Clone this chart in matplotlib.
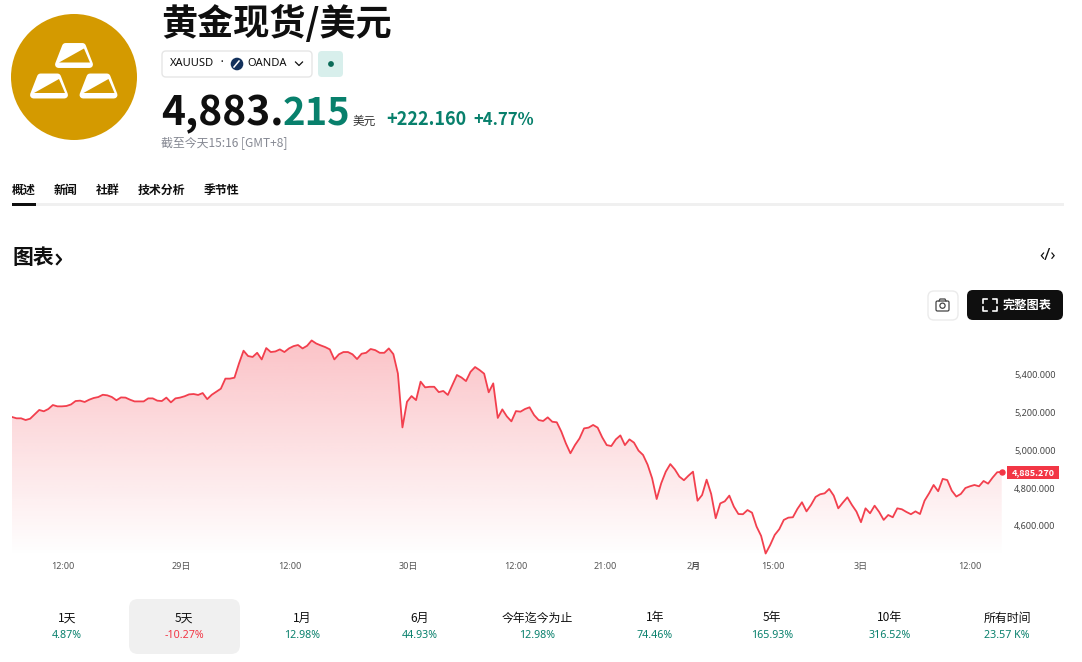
import numpy as np
import matplotlib
matplotlib.use("Agg")
import matplotlib.pyplot as plt
from matplotlib.patches import Circle, FancyBboxPatch, Polygon, Rectangle

plt.rcParams['font.family'] = ['Noto Sans', 'Noto Sans CJK SC']

# --- data (30 min bars) ---
prices = [
    5174, 5167, 5167, 5158, 5165, 5188, 5211, 5204, 5216, 5237, 5230, 5230, 5232, 5240, 5258, 5260,
    5253, 5265, 5274, 5279, 5291, 5288, 5279, 5262, 5277, 5276, 5265, 5256, 5256, 5256, 5272, 5272,
    5260, 5258, 5276, 5251, 5272, 5276, 5283, 5293, 5295, 5290, 5300, 5268, 5291, 5307, 5323, 5376,
    5376, 5381, 5456, 5523, 5495, 5490, 5512, 5477, 5537, 5516, 5519, 5530, 5516, 5535, 5547, 5553,
    5535, 5549, 5577, 5561, 5551, 5542, 5530, 5477, 5504, 5516, 5516, 5504, 5479, 5507, 5512, 5532,
    5526, 5512, 5512, 5535, 5505, 5403, 5119, 5254, 5284, 5263, 5360, 5330, 5333, 5333, 5305, 5311,
    5290, 5342, 5395, 5382, 5363, 5412, 5437, 5421, 5402, 5304, 5351, 5169, 5214, 5177, 5151, 5205,
    5202, 5216, 5225, 5184, 5158, 5153, 5172, 5149, 5146, 5097, 5035, 4983, 5026, 5061, 5114, 5118,
    5132, 5118, 5067, 5026, 5021, 5056, 5077, 5026, 5056, 5039, 4997, 4974, 4923, 4851, 4742, 4825,
    4886, 4926, 4898, 4860, 4841, 4865, 4886, 4733, 4763, 4844, 4769, 4641, 4719, 4730, 4760, 4702,
    4663, 4662, 4684, 4670, 4597, 4548, 4455, 4500, 4553, 4583, 4632, 4644, 4646, 4690, 4725, 4677,
    4711, 4753, 4767, 4772, 4795, 4760, 4693, 4723, 4751, 4711, 4676, 4620, 4693, 4667, 4707, 4674,
    4632, 4658, 4646, 4693, 4688, 4674, 4662, 4677, 4663, 4733, 4772, 4816, 4783, 4848, 4842, 4786,
    4755, 4769, 4800, 4809, 4816, 4809, 4837, 4823, 4855, 4883, 4885,
]
time_ticks = [11.2, 37.2, 61.2, 87.2, 111, 130.6, 150.2, 167.6, 187, 211]
time_labels = ['12:00', '29日', '12:00', '30日', '12:00', '21:00', '2月', '15:00', '3日', '12:00']
price_ticks = [4600, 4800, 5000, 5200, 5400]
last_price = 4885.27

periods = ['1天', '5天', '1月', '6月', '今年迄今为止', '1年', '5年', '10年', '所有时间']
changes = ['4.87%', '-10.27%', '12.98%', '44.93%', '12.98%', '74.46%', '165.93%', '316.52%', '23.57 K%']

tabs = ['概述', '新闻', '社群', '技术分析', '季节性']
tab_x = [12, 54, 96, 138, 204]

W, H = 1082, 662
RED = '#f23645'
GREEN = '#08806c'
INK = '#0f0f0f'
GOLD = '#d49a00'
CJK = ['Noto Sans CJK SC', 'Noto Sans']

fig = plt.figure(figsize=(W / 100, H / 100), dpi=100)

# page layer, in pixels
page = fig.add_axes([0, 0, 1, 1])
page.set_xlim(0, W)
page.set_ylim(H, 0)
page.axis('off')


def rbox(x0, y0, x1, y1, r, **kw):
    page.add_patch(FancyBboxPatch((x0 + r, y0 + r), x1 - x0 - 2 * r, y1 - y0 - 2 * r,
                                  boxstyle=f'round,pad={r},rounding_size={r}', **kw))


def gold_bar(cx, cy):
    # white rounded block with a gold wedge cut into its lower right
    body = [(cx - 8.5, cy - 9), (cx + 8.5, cy - 9), (cx + 15.5, cy + 9), (cx - 15.5, cy + 9)]
    page.add_patch(Polygon(body, closed=True, fc='white', ec='white', lw=5, joinstyle='round'))
    wedge = [(cx - 15, cy + 7), (cx + 10, cy - 7), (cx + 16, cy + 7)]
    page.add_patch(Polygon(wedge, closed=True, fc=GOLD, ec='none'))


# logo
page.add_patch(Circle((74, 77), 63, fc=GOLD, ec='none'))
gold_bar(74, 55.5)
gold_bar(49, 86)
gold_bar(98.5, 86)

# header
page.text(161, 24, '黄金现货/美元', fontsize=26, fontweight='bold', color=INK,
          family=CJK, va='center')
rbox(162, 51, 312, 77, 4, fc='white', ec='#e6e6e6', lw=1)
page.text(170, 64, 'XAUUSD', fontsize=8, color=INK, va='center')
page.text(222, 63, '•', fontsize=5, color=INK, va='center', ha='center')
page.add_patch(Circle((237, 64), 6.3, fc='#13315c', ec='none'))
page.plot([234, 239], [67, 61], color='white', lw=1.1)
page.text(247, 64, 'OANDA', fontsize=8, color=INK, va='center')
page.plot([295.5, 299, 302.5], [62, 65.5, 62], color=INK, lw=0.9)
rbox(318, 51, 343, 77, 4, fc='#d8efec', ec='none')
page.add_patch(Circle((331, 64), 2.9, fc='#0b6b58', ec='none'))

page.text(161, 125, '4,883.', fontsize=29.3, fontweight='bold', color=INK, va='baseline', family=CJK)
page.text(283, 125, '215', fontsize=27.5, fontweight='bold', color=GREEN, va='baseline', family=CJK)
page.text(353, 121, '美元', fontsize=8.4, color='#333333', va='center', family=CJK)
page.text(386, 125, '+222.160', fontsize=13, fontweight='bold', color=GREEN, va='baseline', family=CJK)
page.text(473, 125, '+4.77%', fontsize=12, fontweight='bold', color=GREEN, va='baseline', family=CJK)
page.text(161, 143, '截至今天15:16 [GMT+8]', fontsize=8.6, color='#868993', va='center', family=CJK)

# tabs
for x, label in zip(tab_x, tabs):
    page.text(x, 190.5, label, fontsize=8.6, fontweight='bold', color=INK, va='center', family=CJK)
page.add_patch(Rectangle((12, 203), 1052, 3, fc='#f0f0f0', ec='none'))
page.add_patch(Rectangle((12, 203), 24, 3, fc=INK, ec='none'))

# section title and buttons
page.text(12, 257, '图表', fontsize=15, fontweight='bold', color=INK, va='center', family=CJK)
page.plot([57, 61, 57], [255, 259.5, 264], color=INK, lw=1.6)
page.text(1048, 256, '‹/›', fontsize=12, color=INK, va='center', ha='center')
rbox(928, 291, 958, 320, 6, fc='white', ec='#ebebeb', lw=1)
rbox(936, 301, 949, 311, 1.5, fc='white', ec='#444444', lw=0.9)
page.plot([939, 940, 945, 946], [301, 299, 299, 301], color='#444444', lw=0.9)
page.add_patch(Circle((942.5, 305.7), 2.6, fc='white', ec='#444444', lw=0.9))
rbox(967, 290, 1063, 320, 6, fc=INK, ec='none')
for sx, sy in [(983, 299), (997, 299), (983, 311), (997, 311)]:
    dx = 4 if sx == 983 else -4
    dy = 4 if sy == 299 else -4
    page.plot([sx + dx, sx, sx], [sy, sy, sy + dy], color='white', lw=1.2)
page.text(1003, 305, '完整图表', fontsize=8.8, fontweight='bold', color='white', va='center', family=CJK)

# chart
ax = fig.add_axes([12 / W, (H - 556) / H, (1059 - 12) / W, (556 - 330) / H])
ax.patch.set_alpha(0)
bars = np.arange(len(prices))
for s in ax.spines.values():
    s.set_visible(False)

# fill fades from the top of the line down to nothing
grad = np.zeros((256, 2, 4))
grad[..., :3] = matplotlib.colors.to_rgb(RED)
grad[..., 3] = np.linspace(0.30, 0.0, 256)[:, None]
im = ax.imshow(grad, extent=[0, bars[-1], 4442, max(prices)], origin='upper', aspect='auto', zorder=1)
ax.set_xlim(0, (1059 - 12) / 4.54)
ax.set_ylim(4442, 5632)
verts = [(0, 4442)] + list(zip(bars, prices)) + [(bars[-1], 4442)]
clip = Polygon(verts, closed=True, transform=ax.transData, fc='none', ec='none')
ax.add_patch(clip)
im.set_clip_path(clip)

ax.plot(bars, prices, color=RED, lw=1.3, zorder=3, solid_joinstyle='round', alpha=0.95)
ax.plot(bars[-1], prices[-1], 'o', color=RED, ms=3.6, zorder=4)

ax.set_xticks(time_ticks)
ax.set_xticklabels(time_labels, fontsize=6.5, color='#555555')
ax.tick_params(axis='x', length=0, pad=4)
ax.yaxis.tick_right()
ax.set_yticks(price_ticks)
ax.set_yticklabels([f'{p:,.3f}' for p in price_ticks], fontsize=6.5, color='#444444')
ax.tick_params(axis='y', length=0, pad=-32.4)
for lab, txt in zip(ax.get_xticklabels(), time_labels):
    if txt.endswith('月'):
        lab.set_fontweight('bold')

# last price tag
page.add_patch(Rectangle((1007, 466), 52, 13, fc=RED, ec='none'))
page.text(1055, 472.5, f'{last_price:,.3f}', fontsize=6.5, fontweight='bold', color='white',
          va='center', ha='right', family=CJK)

# period row
period_x = [67, 184, 302, 420, 537, 655, 772, 890, 1007]
rbox(129, 599, 240, 654, 9, fc='#f0f0f0', ec='none')
for x, p, c in zip(period_x, periods, changes):
    page.text(x, 618, p, fontsize=8.6, color=INK, ha='center', va='center', family=CJK)
    col = RED if c.startswith('-') else GREEN
    page.text(x, 636, c, fontsize=7.7, color=col, ha='center', va='center')

fig.savefig('out.png', dpi=100)
